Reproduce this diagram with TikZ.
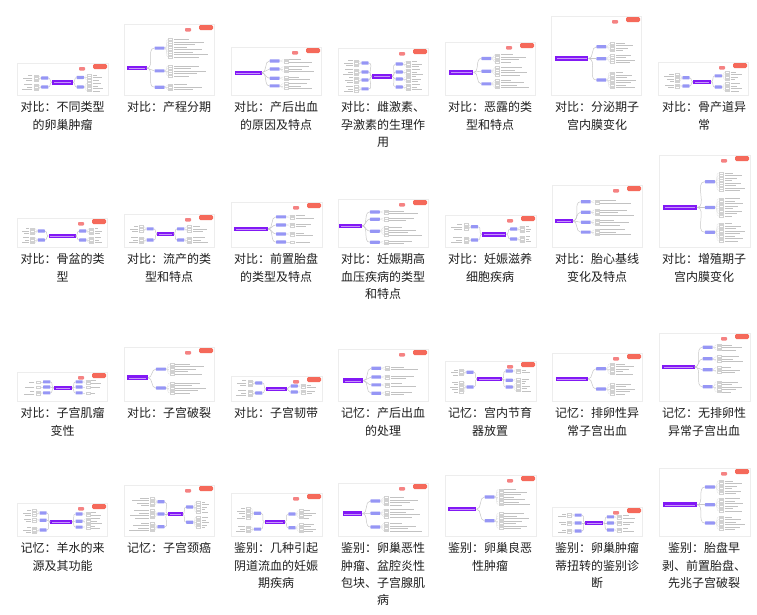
\documentclass[tikz,border=0pt]{standalone}
\usepackage{fontspec}
\newfontfamily\cjk{Noto Sans CJK SC}
\definecolor{cpurple}{RGB}{130,25,245}
\definecolor{cbranch}{RGB}{150,150,245}
\definecolor{ctag}{RGB}{245,105,90}
\definecolor{cpink}{RGB}{245,130,130}
\tikzset{
 centerbox/.style={fill=cpurple, inner sep=0, minimum height=4.6pt},
 branchbox/.style={fill=cbranch, inner sep=0, minimum height=3.2pt, rounded corners=0.5pt},
 conn/.style={draw=black!22, line width=0.5pt},
 leafconn/.style={draw=black!12, line width=0.3pt},
 leafline/.style={draw=black!24, line width=0.4pt},
 leafbox/.style={draw=black!18, line width=0.3pt},
 captext/.style={font=\cjk\fontsize{12}{17.4}\selectfont, align=center, anchor=north, inner sep=0, text=black!88},
 thumbbg/.style={fill=white, draw=black!7, line width=0.4pt},
 thumbshadow/.style={fill=black!11},
}
\newcounter{tb}
\newcommand\leaves[7]{%
 \foreach \k in {1,...,#3}{%
  \pgfmathsetmacro\ly{#2+(\k-(#3+1)/2)*2.5}%
  \pgfmathsetmacro\ll{(0.35+0.65*mod(\k*7+#6*5,11)/11)*#5}%
  \pgfmathsetmacro\ao{#4>0?0:180}%
  \pgfmathsetmacro\ai{#4>0?180:0}%
  \pgfmathsetmacro\qa{#1+#4*0.5}%
  \pgfmathsetmacro\qb{#1+#4*4.5}%
  \pgfmathsetmacro\qc{#1+#4*6}%
  \pgfmathsetmacro\qd{#1+#4*6+#4*\ll}%
  \pgfmathsetmacro\ya{\ly-0.8}%
  \pgfmathsetmacro\yb{\ly+0.8}%
  \draw[leafconn] (#7) to[out=\ao,in=\ai] (#1,\ly);
  \draw[leafbox] (\qa,\ya) rectangle (\qb,\yb);
  \draw[leafline] (\qc,\ly) -- (\qd,\ly);
 }}
\newcommand\thumb[9]{%
 \stepcounter{tb}%
 \edef\tid{\arabic{tb}}%
 \pgfmathsetmacro\tW{#3-#1}%
 \pgfmathsetmacro\tH{#4-#2}%
 \fill[thumbshadow] ({#1+0.6},{#2+0.8}) rectangle ({#3+1.2},{#4+1.2});
 \filldraw[thumbbg] (#1,#2) rectangle (#3,#4);
 \fill[cpink, rounded corners=0.8pt] ({#3-29},{#2+4}) rectangle ({#3-23},{#2+7.5});
 \fill[ctag, rounded corners=1.3pt] ({#3-15},{#2+1}) rectangle ({#3-1},{#2+6});
 \pgfmathsetmacro\cxx{#1+#5*\tW}%
 \pgfmathsetmacro\cyy{#2+#7*\tH}%
 \pgfmathsetmacro\cwid{#6*\tW}%
 \node[centerbox, minimum width=\cwid pt] (c\tid) at (\cxx,\cyy) {};
 \draw[white!55!cpurple, line width=0.4pt] ([xshift=2pt]c\tid.west) -- ([xshift=-2pt]c\tid.east);
 \pgfmathsetmacro\cR{\cxx+\cwid/2}%
 \pgfmathsetmacro\cL{\cxx-\cwid/2}%
 \if\relax\detokenize{#8}\relax
   \pgfmathsetmacro\bx{\cR+0.145*\tW}%
   \pgfmathsetmacro\bw{0.11*\tW}%
   \pgfmathsetmacro\lx{\cR+0.24*\tW}%
 \else
   \pgfmathsetmacro\bx{\cR+0.08*\tW}%
   \pgfmathsetmacro\bw{0.08*\tW}%
   \pgfmathsetmacro\lx{\cR+0.15*\tW}%
   \pgfmathsetmacro\bxl{\cL-0.08*\tW}%
   \pgfmathsetmacro\lxl{\cL-0.15*\tW}%
   \pgfmathsetmacro\lml{\lxl-#1-10}%
   \foreach \f/\lc [count=\i] in {#8}{%
     \pgfmathsetmacro\by{#2+\f*\tH}%
     \node[branchbox, minimum width=\bw pt] (l\tid-\i) at (\bxl,\by) {};
     \draw[conn] (c\tid.west) to[out=180,in=0] (l\tid-\i.east);
     \leaves{\lxl}{\by}{\lc}{-1}{\lml}{\i}{l\tid-\i.west}
   }%
 \fi
 \pgfmathsetmacro\lm{#3-\lx-10}%
 \foreach \f/\lc [count=\i] in {#9}{%
   \pgfmathsetmacro\by{#2+\f*\tH}%
   \node[branchbox, minimum width=\bw pt] (r\tid-\i) at (\bx,\by) {};
   \draw[conn] (c\tid.east) to[out=0,in=180] (r\tid-\i.west);
   \leaves{\lx}{\by}{\lc}{1}{\lm}{\i}{r\tid-\i.east}
 }%
}
\newcommand\capt[4]{\node[captext] (#1) at (#2,#3) {#4};}
\begin{document}
\begin{tikzpicture}[x=1pt,y=-1pt]
\useasboundingbox (0,0) rectangle (757,614);
\fill[white] (0,0) rectangle (757,614);
% Row 1
\thumb{17}{63}{108}{95}{0.5}{0.23}{0.6}{0.47/3,0.75/3}{0.45/3,0.75/4}
\thumb{124}{24}{214}{95}{0.14}{0.22}{0.62}{}{0.34/8,0.66/5,0.89/3}
\thumb{231}{47}{321}{95}{0.19}{0.3}{0.54}{}{0.29/2,0.46/3,0.65/2,0.81/3}
\thumb{338}{48}{428}{95}{0.49}{0.22}{0.6}{0.32/3,0.51/3,0.68/3,0.87/3}{0.34/3,0.51/3,0.66/3,0.83/3}
\thumb{445}{42}{535}{95}{0.18}{0.27}{0.57}{}{0.31/4,0.55/4,0.79/4}
\thumb{551}{16}{641}{95}{0.23}{0.37}{0.54}{}{0.39/4,0.54/4,0.81/7}
\thumb{658}{62}{748}{95}{0.49}{0.2}{0.6}{0.48/4,0.73/2}{0.42/4,0.76/4}
% Row 2
\thumb{17}{218}{107}{247}{0.5}{0.3}{0.62}{0.45/3,0.76/3}{0.45/3,0.76/3}
\thumb{124}{214}{214}{247}{0.46}{0.18}{0.6}{0.45/3,0.79/3}{0.45/3,0.79/3}
\thumb{231}{202}{322}{247}{0.22}{0.37}{0.6}{}{0.33/2,0.51/2,0.71/2,0.89/1}
\thumb{338}{199}{428}{247}{0.14}{0.25}{0.56}{}{0.27/2,0.42/2,0.67/4,0.9/2}
\thumb{445}{215}{536}{247}{0.54}{0.27}{0.6}{0.37/3,0.78/3}{0.44/3,0.75/3}
\thumb{552}{185}{642}{247}{0.13}{0.2}{0.58}{}{0.27/2,0.44/3,0.6/3,0.76/3}
\thumb{659}{155}{750}{247}{0.23}{0.37}{0.57}{}{0.29/8,0.57/8,0.84/8}
% Row 3
\thumb{17}{372}{107}{401}{0.51}{0.2}{0.55}{0.34/1,0.52/1,0.72/2}{0.34/2,0.52/1,0.72/1}
\thumb{124}{347}{214}{401}{0.15}{0.23}{0.57}{}{0.41/5,0.76/5}
\thumb{231}{376}{322}{401}{0.5}{0.23}{0.52}{0.28/3,0.68/3}{0.4/2,0.64/2}
\thumb{338}{349}{428}{401}{0.17}{0.22}{0.61}{}{0.37/2,0.54/2,0.69/2,0.85/2}
\thumb{445}{361}{536}{401}{0.49}{0.27}{0.45}{0.28/3,0.65/5}{0.25/2,0.48/2,0.65/4}
\thumb{552}{353}{642}{401}{0.22}{0.36}{0.54}{}{0.33/5,0.75/5}
\thumb{659}{333}{750}{401}{0.21}{0.36}{0.5}{}{0.21/3,0.38/3,0.54/3,0.79/5}
% Row 4
\thumb{17}{503}{107}{536}{0.49}{0.24}{0.57}{0.3/3,0.52/2,0.82/3}{0.33/2,0.55/3,0.73/2}
\thumb{124}{485}{214}{536}{0.57}{0.16}{0.57}{0.33/4,0.57/4,0.82/4}{0.43/5,0.73/5}
\thumb{231}{493}{322}{536}{0.48}{0.22}{0.67}{0.47/5,0.84/3}{0.49/4,0.81/4}
\thumb{338}{483}{428}{536}{0.16}{0.22}{0.58}{}{0.34/4,0.57/4,0.83/4}
\thumb{445}{475}{536}{536}{0.19}{0.31}{0.56}{}{0.36/7,0.75/7}
\thumb{552}{507}{642}{536}{0.47}{0.2}{0.55}{0.28/2,0.55/2,0.83/2}{0.34/2,0.55/2,0.79/2}
\thumb{659}{468}{750}{536}{0.23}{0.37}{0.54}{}{0.28/6,0.54/6,0.81/6}
% Captions row 1
\capt{t11}{62.5}{101.5}{对比：不同类型\\的卵巢肿瘤}
\capt{t12}{169}{101.5}{对比：产程分期}
\capt{t13}{276}{101.5}{对比：产后出血\\的原因及特点}
\capt{t14}{383}{101.5}{对比：雌激素、\\孕激素的生理作\\用}
\capt{t15}{490}{101.5}{对比：恶露的类\\型和特点}
\capt{t16}{597}{101.5}{对比：分泌期子\\宫内膜变化}
\capt{t17}{704}{101.5}{对比：骨产道异\\常}
% Captions row 2
\capt{t21}{62.5}{253.5}{对比：骨盆的类\\型}
\capt{t22}{169}{253.5}{对比：流产的类\\型和特点}
\capt{t23}{276}{253.5}{对比：前置胎盘\\的类型及特点}
\capt{t24}{383}{253.5}{对比：妊娠期高\\血压疾病的类型\\和特点}
\capt{t25}{490}{253.5}{对比：妊娠滋养\\细胞疾病}
\capt{t26}{597}{253.5}{对比：胎心基线\\变化及特点}
\capt{t27}{704}{253.5}{对比：增殖期子\\宫内膜变化}
% Captions row 3
\capt{t31}{62.5}{407.5}{对比：子宫肌瘤\\变性}
\capt{t32}{169}{407.5}{对比：子宫破裂}
\capt{t33}{276}{407.5}{对比：子宫韧带}
\capt{t34}{383}{407.5}{记忆：产后出血\\的处理}
\capt{t35}{490}{407.5}{记忆：宫内节育\\器放置}
\capt{t36}{597}{407.5}{记忆：排卵性异\\常子宫出血}
\capt{t37}{704}{407.5}{记忆：无排卵性\\异常子宫出血}
% Captions row 4
\capt{t41}{62.5}{542.5}{记忆：羊水的来\\源及其功能}
\capt{t42}{169}{542.5}{记忆：子宫颈癌}
\capt{t43}{276}{542.5}{鉴别：几种引起\\阴道流血的妊娠\\期疾病}
\capt{t44}{383}{542.5}{鉴别：卵巢恶性\\肿瘤、盆腔炎性\\包块、子宫腺肌\\病}
\capt{t45}{490}{542.5}{鉴别：卵巢良恶\\性肿瘤}
\capt{t46}{597}{542.5}{鉴别：卵巢肿瘤\\蒂扭转的鉴别诊\\断}
\capt{t47}{704}{542.5}{鉴别：胎盘早\\剥、前置胎盘、\\先兆子宫破裂}
\end{tikzpicture}
\end{document}
